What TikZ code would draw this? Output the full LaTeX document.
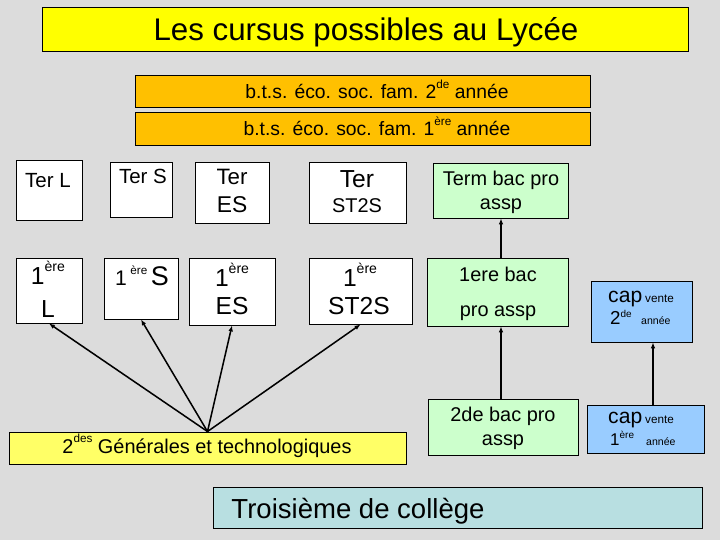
\documentclass[tikz,border=0pt]{standalone}
\usepackage{fontspec}
\setmainfont{Liberation Sans}
\usetikzlibrary{fit,arrows.meta}
\definecolor{bg}{HTML}{DCDCDC}
\definecolor{titley}{HTML}{FFFF00}
\definecolor{btso}{HTML}{FFC000}
\definecolor{paley}{HTML}{FFFF66}
\definecolor{grn}{HTML}{CCFFCC}
\definecolor{blu}{HTML}{99CCFF}
\definecolor{cyn}{HTML}{B8DFE1}
\newcommand\fs[1]{\fontsize{#1}{#1}\selectfont}
\newcommand\sups[2]{\raisebox{0.55em}{\fs{#1}#2}}
\newcommand\lsups[2]{\raisebox{0.42em}{\fs{#1}#2}}
\tikzset{
  box/.style={draw, line width=0.8pt, inner sep=0pt, fill=white},
  txt/.style={inner sep=0pt, anchor=base},
  arr/.style={line width=1.3pt, -{Latex[length=5pt,width=4pt]}},
}
\begin{document}
\begin{tikzpicture}[x=0.03cm,y=-0.03cm]
\fill[bg] (0,0) rectangle (720,540);
\useasboundingbox (0,0) rectangle (720,540);
% boxes
\node[box, fill=titley, fit={(42,7) (688,51)}] (title) {};
\node[box, fill=btso, fit={(135,75) (590,107)}] (bts2) {};
\node[box, fill=btso, fit={(135,112) (590,145)}] (bts1) {};
\node[box, fit={(16,160) (82,220)}] (terL) {};
\node[box, fit={(110,162) (172,217)}] (terS) {};
\node[box, fit={(195,162) (269,223)}] (terES) {};
\node[box, fit={(309,162) (406,223)}] (terST) {};
\node[box, fit={(16,258) (82,323)}] (preL) {};
\node[box, fit={(104,258) (178,319)}] (preS) {};
\node[box, fit={(189,258) (275,325)}] (preES) {};
\node[box, fit={(309,258) (412,324)}] (preST) {};
\node[box, fill=grn, fit={(433,163) (568,218)}] (term) {};
\node[box, fill=grn, fit={(427,258) (568,326)}] (bac1) {};
\node[box, fill=grn, fit={(428,399) (578,455)}] (bac2) {};
\node[box, fill=blu, fit={(591,281) (692,342)}] (cap2) {};
\node[box, fill=blu, fit={(587,405) (704,453)}] (cap1) {};
\node[box, fill=paley, fit={(9,432) (406,464)}] (gen) {};
\node[box, fill=cyn, fit={(213,487) (702,528)}] (trois) {};
% texts
\node[txt] at (366,41) {\fs{26.7}Les cursus possibles au Lycée};
\node[txt] at (377,99) {\fs{16.5}b.t.s. éco. soc. fam. 2\sups{10}{de} année};
\node[txt] at (377,136) {\fs{16.5}b.t.s. éco. soc. fam. 1\sups{10}{ère} année};
\node[txt] at (48,188) {\fs{17.5}Ter L};
\node[txt] at (143,184) {\fs{17.5}Ter S};
\node[txt] at (232,185) {\fs{19}Ter};
\node[txt] at (232,213) {\fs{19.5}ES};
\node[txt] at (357,188) {\fs{21}Ter};
\node[txt] at (357,213) {\fs{17}ST2S};
\node[txt] at (48,285) {\fs{21}1\sups{12}{ère}};
\node[txt] at (48,318) {\fs{21}L};
\node[txt] at (142,286) {\fs{18}1\,\sups{10}{ère}\,\fs{23}S};
\node[txt] at (232,287) {\fs{21}1\sups{12}{ère}};
\node[txt] at (232,315) {\fs{21}ES};
\node[txt] at (360,287) {\fs{21}1\sups{12}{ère}};
\node[txt] at (359,315) {\fs{21}ST2S};
\node[txt] at (501,186) {\fs{17}Term bac pro};
\node[txt] at (501,210) {\fs{17}assp};
\node[txt] at (498,282) {\fs{17}1ere bac};
\node[txt] at (498,317) {\fs{17}pro assp};
\node[txt] at (503,422) {\fs{17}2de bac pro};
\node[txt] at (503,445) {\fs{17}assp};
\node[txt] at (207,453) {\fs{17}2\sups{10}{des} Générales et technologiques};
\node[txt] at (358,518) {\fs{23.5}Troisième de collège};
\node[txt, anchor=base west] at (608,303) {\fs{18}cap};
\node[txt, anchor=base west] at (645,303) {\fs{10}vente};
\node[txt, anchor=base west] at (610,325) {\fs{16}2\lsups{8.5}{de}};
\node[txt, anchor=base west] at (641,325) {\fs{9}année};
\node[txt, anchor=base west] at (608,424) {\fs{18}cap};
\node[txt, anchor=base west] at (645,424) {\fs{10}vente};
\node[txt, anchor=base west] at (610,446) {\fs{14.5}1\lsups{8.5}{ère}};
\node[txt, anchor=base west] at (646,446) {\fs{9}année};
% connectors
\coordinate (src) at (gen.north);
\foreach \t in {preL,preS,preES,preST} \draw[arr] (src) -- (\t.south);
\coordinate (gx) at (501,0);
\draw[arr] (bac2.north -| gx) -- (bac1.south -| gx);
\draw[arr] (bac1.north -| gx) -- (term.south -| gx);
\coordinate (cx) at (653,0);
\draw[arr] (cap1.north -| cx) -- (cap2.south -| cx);
\end{tikzpicture}
\end{document}
